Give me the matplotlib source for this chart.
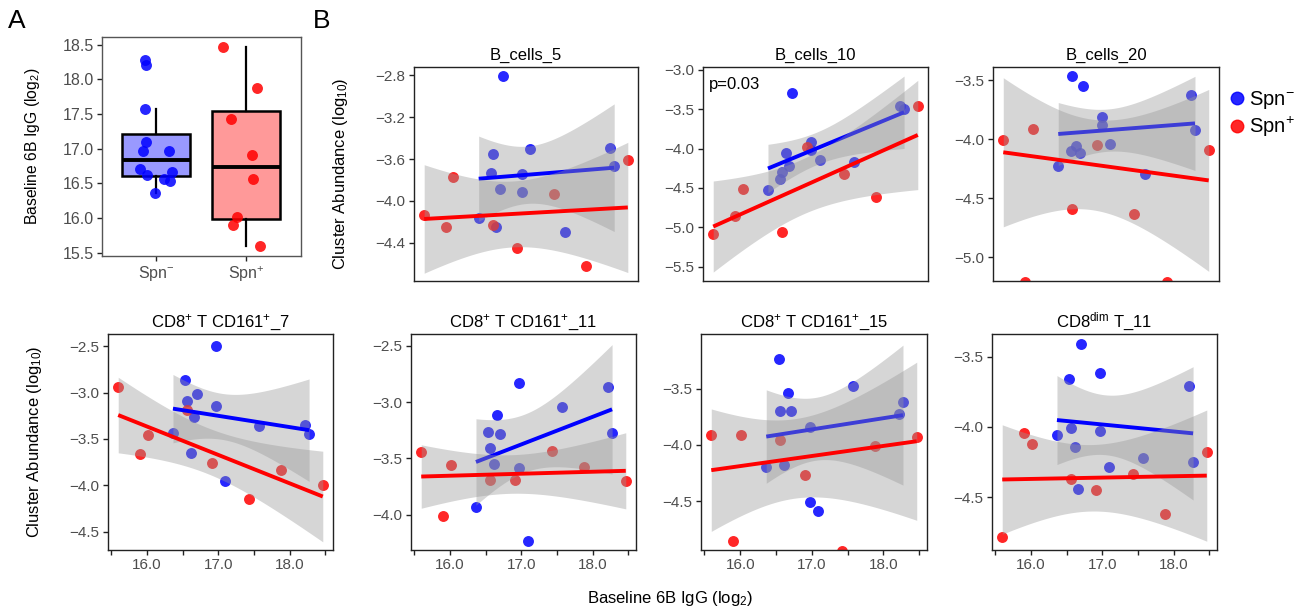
import numpy as np
import matplotlib
matplotlib.use("Agg")
import matplotlib.pyplot as plt
from matplotlib.lines import Line2D

plt.rcParams['font.family'] = ['Liberation Sans', 'DejaVu Sans']
plt.rcParams['mathtext.fontset'] = 'custom'
plt.rcParams['mathtext.rm'] = 'Liberation Sans'
plt.rcParams['mathtext.it'] = 'Liberation Sans:italic'
plt.rcParams['mathtext.bf'] = 'Liberation Sans:bold'

# ---------------- data ----------------
group_labels = ["Spn$^{-}$", "Spn$^{+}$"]
# Baseline 6B IgG (log2) per subject
igg_neg = [16.364, 16.536, 16.560, 16.613, 16.661, 16.704, 16.969, 16.969, 17.089, 17.578, 18.212, 18.274]
igg_pos = [15.596, 15.898, 16.008, 16.560, 16.906, 17.425, 17.880, 18.466]
# horizontal jitter of points in panel A
jitter_neg = [-0.01, 0.15, 0.09, -0.10, 0.18, -0.18, -0.15, 0.14, -0.115, -0.13, -0.115, -0.13]
jitter_pos = [0.15, -0.15, -0.10, 0.08, 0.06, -0.17, 0.12, -0.26]

panel_titles = ["B_cells_5", "B_cells_10", "B_cells_20",
                "CD8$^{+}$ T CD161$^{+}$_7", "CD8$^{+}$ T CD161$^{+}$_11",
                "CD8$^{+}$ T CD161$^{+}$_15", "CD8$^{\\mathrm{dim}}$ T_11"]

# Cluster abundance (log10), same subject order as igg_neg / igg_pos
b5_neg = [-4.16, -3.73, -3.55, -4.25, -3.89, -2.81, -3.74, -3.91, -3.50, -4.30, -3.49, -3.67]
b5_pos = [-4.135, -4.25, -3.77, -4.23, -4.45, -3.93, -4.62, -3.61]
b10_neg = [-4.52, -4.39, -4.30, -4.06, -4.22, -3.29, -3.92, -4.02, -4.14, -4.17, -3.46, -3.50]
b10_pos = [-5.09, -4.85, -4.51, -5.06, -3.98, -4.32, -4.61, -3.46]
b20_neg = [-4.225, -4.098, -3.463, -4.061, -4.117, -3.548, -3.81, -3.878, -4.041, -4.295, -3.624, -3.92]
b20_pos = [-4.007, -5.21, -3.909, -4.591, -4.047, -4.633, -5.21, -4.092]
t7_neg = [-3.434, -2.859, -3.092, -3.649, -3.265, -3.013, -3.146, -2.5, -3.954, -3.362, -3.344, -3.444]
t7_pos = [-2.942, -3.66, -3.452, -3.182, -3.764, -4.152, -3.839, -3.997]
t11_neg = [-3.932, -3.269, -3.406, -3.551, -3.115, -3.287, -2.827, -3.581, -4.229, -3.041, -2.868, -3.272]
t11_pos = [-3.441, -4.006, -3.560, -3.694, -3.694, -3.433, -3.575, -3.703]
t15_neg = [-4.194, -3.236, -3.696, -4.18, -3.536, -3.696, -3.838, -4.512, -4.586, -3.476, -3.726, -3.622]
t15_pos = [-3.912, -4.853, -3.912, -3.957, -4.266, -4.945, -4.013, -3.933]
dim11_neg = [-4.055, -3.66, -4.005, -4.143, -4.443, -3.412, -3.614, -4.031, -4.286, -4.219, -3.71, -4.25]
dim11_pos = [-4.786, -4.043, -4.119, -4.374, -4.448, -4.333, -4.619, -4.179]

neg_series = [b5_neg, b10_neg, b20_neg, t7_neg, t11_neg, t15_neg, dim11_neg]
pos_series = [b5_pos, b10_pos, b20_pos, t7_pos, t11_pos, t15_pos, dim11_pos]
p_labels = [None, "p=0.03", None, None, None, None, None]

# ---------------- layout / style ----------------
W, H = 1307, 612
BLUE, RED = "#0000FF", "#FF0000"
TICKC = "#4D4D4D"
FRAME = "#222222"
ylims = [(-4.765, -2.72), (-5.68, -2.966), (-5.203, -3.387),
         (-4.698, -2.367), (-4.312, -2.396), (-4.936, -3.013), (-4.876, -3.340)]
yticks = [np.arange(-4.4, -2.79, 0.4), np.arange(-5.5, -2.99, 0.5), np.arange(-5.0, -3.49, 0.5),
          np.arange(-4.5, -2.49, 0.5), np.arange(-4.0, -2.49, 0.5), np.arange(-4.5, -3.49, 0.5),
          np.arange(-4.5, -3.49, 0.5)]
# axes boxes in pixels: left, top, right, bottom
boxes = [(414, 67, 638, 281), (703, 67, 928, 281), (993, 67, 1219, 281),
         (108, 334, 333, 550), (411, 334, 636, 550), (701, 334, 927, 550), (992, 334, 1217, 550)]

T975 = {2: 4.303, 3: 3.182, 4: 2.776, 5: 2.571, 6: 2.447, 7: 2.365, 8: 2.306,
        9: 2.262, 10: 2.228, 11: 2.201, 12: 2.179, 13: 2.160}


def fit_band(x, y):
    x = np.asarray(x, float); y = np.asarray(y, float)
    n = len(x); xb = x.mean(); yb = y.mean()
    sxx = ((x - xb) ** 2).sum()
    b = ((x - xb) * (y - yb)).sum() / sxx
    a = yb - b * xb
    mse = ((y - (a + b * x)) ** 2).sum() / (n - 2)
    xg = np.linspace(x.min(), x.max(), 100)
    yg = a + b * xg
    se = np.sqrt(mse * (1.0 / n + (xg - xb) ** 2 / sxx))
    t = T975[n - 2]
    return xg, yg, yg - t * se, yg + t * se


def px_axes(fig, box):
    l, t, r, b = box
    return fig.add_axes([l / W, 1 - b / H, (r - l) / W, (b - t) / H])


def style(ax, size=11):
    for s in ax.spines.values():
        s.set_color(FRAME)
        s.set_linewidth(1.0)
    ax.tick_params(direction='out', length=3.5, width=1.0, color=FRAME,
                   labelcolor=TICKC, labelsize=size, pad=2.5)


fig = plt.figure(figsize=(W / 100, H / 100), dpi=100)

# ---------------- panel A ----------------
axA = px_axes(fig, (102, 37, 301, 256))
bp = axA.boxplot([igg_neg, igg_pos], positions=[1, 2], widths=0.76, patch_artist=True,
                 showcaps=False, showfliers=False, whis=1.5,
                 medianprops=dict(color='black', linewidth=2.8),
                 whiskerprops=dict(color='black', linewidth=1.6),
                 boxprops=dict(edgecolor='black', linewidth=1.8))
for patch, c in zip(bp['boxes'], ["#9999FF", "#FF9999"]):
    patch.set_facecolor(c)
axA.scatter(1 + np.asarray(jitter_neg), igg_neg, s=62, color=BLUE, alpha=0.85, lw=0, zorder=5)
axA.scatter(2 + np.asarray(jitter_pos), igg_pos, s=62, color=RED, alpha=0.85, lw=0, zorder=5)
axA.set_xlim(0.397, 2.61)
allv = np.concatenate([igg_neg, igg_pos])
rng = allv.max() - allv.min()
axA.set_ylim(allv.min() - 0.05 * rng, allv.max() + 0.05 * rng)
axA.set_yticks(np.arange(15.5, 18.51, 0.5))
axA.set_yticklabels([f"{v:.1f}" for v in np.arange(15.5, 18.51, 0.5)])
axA.set_xticks([1, 2])
axA.set_xticklabels(group_labels)
style(axA, 11.5)
for s in axA.spines.values():
    s.set_color("#555555")
axA.set_ylabel("Baseline 6B IgG (log$_{2}$)", fontsize=11.3)
axA.yaxis.set_label_coords(-0.30, 0.5)

# ---------------- panel B ----------------
xall = np.concatenate([igg_neg, igg_pos])
xr = xall.max() - xall.min()
xlim = (xall.min() - 0.05 * xr, xall.max() + 0.05 * xr)

for i in range(7):
    ax = px_axes(fig, boxes[i])
    lo, hi = ylims[i]
    ax.scatter(igg_neg, neg_series[i], s=62, color=BLUE, alpha=0.85, lw=0, zorder=2)
    ax.scatter(igg_pos, pos_series[i], s=62, color=RED, alpha=0.85, lw=0, zorder=2)
    z = 3
    for xs, ys, col in [(igg_neg, neg_series[i], BLUE), (igg_pos, pos_series[i], RED)]:
        xs = np.asarray(xs); ys = np.asarray(ys)
        keep = (ys >= lo) & (ys <= hi)  # values outside the scale limits are dropped from the fit
        xg, yg, ylo, yhi = fit_band(xs[keep], ys[keep])
        ax.fill_between(xg, ylo, yhi, color='#999999', alpha=0.4, lw=0, zorder=z)
        ax.plot(xg, yg, color=col, lw=2.8, solid_capstyle='butt', zorder=z + 1)
        z += 2
    ax.set_xlim(*xlim)
    ax.set_ylim(lo, hi)
    ax.set_yticks(yticks[i])
    ax.set_yticklabels([f"{v:.1f}".replace("-", "\u2212") for v in yticks[i]])
    style(ax, 11)
    ax.set_title(panel_titles[i], fontsize=12, pad=5)
    if i < 3:
        ax.tick_params(axis='x', bottom=False, labelbottom=False)
    else:
        xt = np.arange(15.5, 18.51, 0.5)
        ax.set_xticks(xt)
        ax.set_xticklabels([f"{v:.1f}" if abs(v - round(v)) < 1e-6 else "" for v in xt])
    if p_labels[i]:
        ax.text(0.025, 0.92, p_labels[i], transform=ax.transAxes, fontsize=12,
                ha='left', va='center', color='black')
    if i in (0, 3):
        ax.set_ylabel("Cluster Abundance (log$_{10}$)", fontsize=11.9)
        ax.yaxis.set_label_coords(-0.285, 0.5)

fig.text(670 / W, 1 - 598 / H, "Baseline 6B IgG (log$_{2}$)", ha='center', va='center', fontsize=12)
fig.text(8 / W, 1 - 21 / H, "A", fontsize=19, ha='left', va='center')
fig.text(313 / W, 1 - 21 / H, "B", fontsize=19, ha='left', va='center')

handles = [Line2D([], [], marker='o', ls='', color=BLUE, alpha=0.85, markersize=9),
           Line2D([], [], marker='o', ls='', color=RED, alpha=0.85, markersize=9)]
fig.legend(handles, group_labels, loc='upper left', bbox_to_anchor=(1227 / W, 1 - 89 / H),
           frameon=False, fontsize=14.5, handletextpad=0.1, labelspacing=0.2,
           handlelength=1.0, borderpad=0, borderaxespad=0)

fig.savefig("out.png", dpi=100)
